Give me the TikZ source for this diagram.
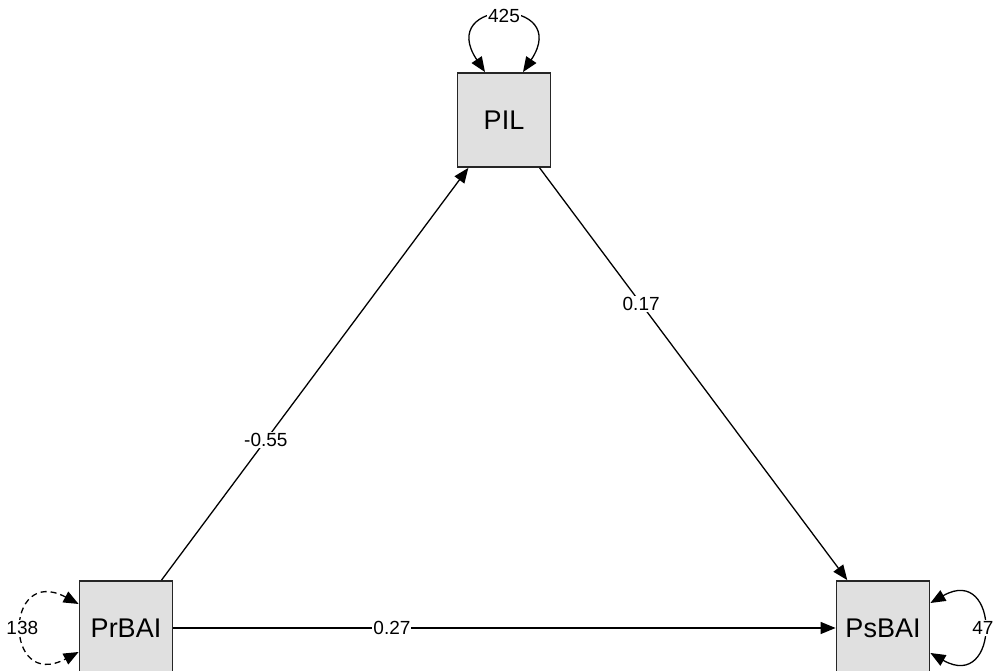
\documentclass[tikz,border=0pt]{standalone}
\usepackage{fontspec}
\setmainfont{Liberation Sans}
\usetikzlibrary{arrows.meta}

\begin{document}
\begin{tikzpicture}[x=1pt, y=1pt,
    var/.style={draw=black!85, line width=1.8pt, fill=black!12, minimum width=93pt, minimum height=94pt, inner sep=0pt, font=\fontsize{27}{32}\selectfont},
    path/.style={line width=1.3pt, -{Triangle[length=15pt, width=12pt]}},
    vloop/.style={line width=1.3pt, {Triangle[length=15pt, width=12pt]}-{Triangle[length=15pt, width=12pt]}},
    coef/.style={fill=white, inner sep=1pt, font=\fontsize{19}{22}\selectfont}]
                    \useasboundingbox (0,0) rectangle (999,671);
                    \node [var] (PIL) at (504,551) {PIL};
                    \node [var] (PrBAI) at (126,43) {PrBAI};
                    \node [var] (PsBAI) at (883,43) {PsBAI};
                    % regression paths
                    \draw [path] (PrBAI) -- node [coef, pos=0.34] {-0.55} (PIL);
                    \draw [path] (PIL) -- node [coef, pos=0.33] {0.17} (PsBAI);
                    \draw [path] (PrBAI) -- node [coef, pos=0.33] {0.27} (PsBAI);
                    % variances
                    \draw [vloop] ([xshift=-19pt]PIL.north) .. controls +(-50,75) and +(50,75) .. node [coef, pos=0.5] {425} ([xshift=19pt]PIL.north);
                    \draw [vloop, dash pattern=on 6pt off 4pt] ([yshift=24pt]PrBAI.west) .. controls +(-75,40) and +(-75,-40) .. node [coef, pos=0.5] {138} ([yshift=-24pt]PrBAI.west);
                    \draw [vloop] ([yshift=25pt]PsBAI.east) .. controls +(70,40) and +(70,-40) .. node [coef, pos=0.5] {47} ([yshift=-25pt]PsBAI.east);
                \end{tikzpicture}
\end{document}
